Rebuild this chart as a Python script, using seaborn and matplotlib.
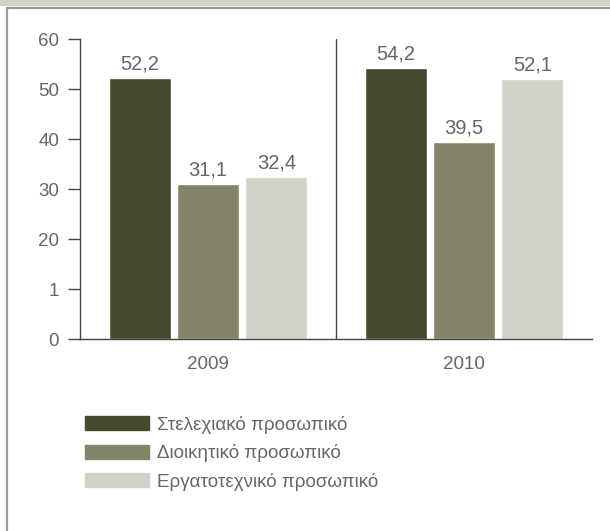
import pandas as pd
import matplotlib.pyplot as plt
import seaborn as sns
from matplotlib.patches import Rectangle
from matplotlib.lines import Line2D

# data
years = ['2009', '2010']
groups = ['Στελεχιακό προσωπικό', 'Διοικητικό προσωπικό', 'Εργατοτεχνικό προσωπικό']
stelexiako = [52.2, 54.2]
dioikitiko = [31.1, 39.5]
ergatotexniko = [32.4, 52.1]
y_ticks = [0, 10, 20, 30, 40, 50, 60]
y_tick_labels = ['0', '1', '20', '30', '40', '50', '60']

colors = ['#464a2c', '#84846a', '#d2d2c9']
text_color = '#666666'

df = pd.DataFrame({
    'Έτος': years * 3,
    'Κατηγορία': [groups[0]] * 2 + [groups[1]] * 2 + [groups[2]] * 2,
    'Τιμή': stelexiako + dioikitiko + ergatotexniko,
})

sns.set_style('white')
plt.rcParams['font.family'] = ['Liberation Sans', 'DejaVu Sans']
plt.rcParams['font.size'] = 14

fig = plt.figure(figsize=(6.1, 5.31), dpi=100)
ax = fig.add_axes([80 / 610, 1 - 339 / 531, 512 / 610, 300 / 531])

sns.barplot(data=df, x='Έτος', y='Τιμή', hue='Κατηγορία', hue_order=groups,
            palette=colors, width=0.8, gap=0.09, saturation=1, ax=ax, legend=False)

for cont in ax.containers:
    labels = [f'{v:.1f}'.replace('.', ',') for v in cont.datavalues]
    ax.bar_label(cont, labels=labels, padding=3, color=text_color, fontsize=14.5)

ax.set_xlim(-0.5, 1.5)
ax.set_ylim(0, 60)
ax.set_yticks(y_ticks)
ax.set_yticklabels(y_tick_labels)
ax.axvline(0.5, color='#444444', lw=1)
ax.set_xlabel('')
ax.set_ylabel('')
sns.despine(ax=ax)
for side in ['left', 'bottom']:
    ax.spines[side].set_color('#444444')
    ax.spines[side].set_linewidth(1)
ax.tick_params(axis='y', left=True, length=9, width=1, color='#444444',
               labelcolor=text_color, labelsize=13.5, pad=6)
ax.tick_params(axis='x', bottom=False, labelcolor=text_color, labelsize=13.5, pad=9)

# legend
handles = [Rectangle((0, 0), 1, 1, color=c) for c in colors]
fig.legend(handles, groups, loc='upper left', bbox_to_anchor=(85 / 610, 1 - 416 / 531),
           frameon=False, handlelength=3.4, handleheight=0.77, handletextpad=0.45,
           labelspacing=0.55, borderpad=0, borderaxespad=0,
           labelcolor=text_color, fontsize=13.5)

# frame decoration
fig.add_artist(Rectangle((0, 1 - 6 / 531), 1, 6 / 531, transform=fig.transFigure,
                         color='#d3d3c8', lw=0))
fig.add_artist(Line2D([7 / 610, 1], [1 - 8 / 531, 1 - 8 / 531], transform=fig.transFigure,
                      color='#9a9a9a', lw=1.6))
fig.add_artist(Line2D([7 / 610, 7 / 610], [0, 1 - 8 / 531], transform=fig.transFigure,
                      color='#9a9a9a', lw=1.6))

plt.savefig('out.png', dpi=100)
